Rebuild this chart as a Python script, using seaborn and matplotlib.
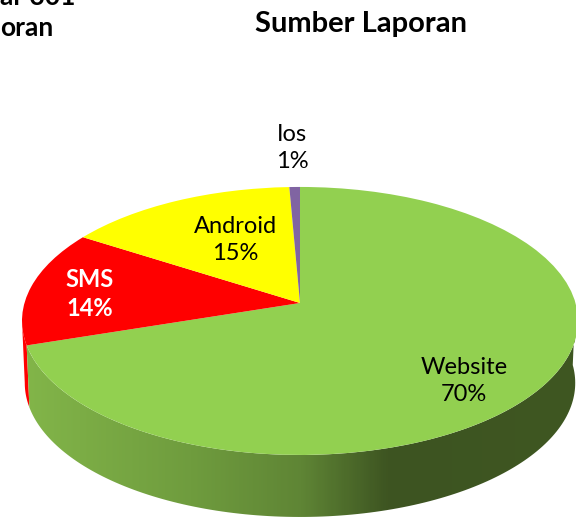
import numpy as np
import matplotlib
matplotlib.use('Agg')
import matplotlib.pyplot as plt
from matplotlib.colors import LinearSegmentedColormap
from matplotlib.patches import Polygon
from matplotlib.transforms import Transform
import seaborn as sns

# Pie values
sources = ['Website', 'SMS', 'Android', 'Ios']
shares = [70.0, 14.0, 15.3, 0.7]
colors = ['#92D050', '#FF0000', '#FFFF00', '#8064A2']
title = 'Sumber Laporan'

# Tilted disc, everything in image pixels
CX, CY = 300, 303
RX, RY, TILT = 275.5, 131.6, 0.134
DEPTH = 62


class Tilted(Transform):
    input_dims = output_dims = 2

    def transform_non_affine(self, xy):
        xy = np.asarray(xy, dtype=float)
        den = 1 + TILT * xy[:, 1]
        return np.column_stack([CX + RX * xy[:, 0] / den, CY - RY * xy[:, 1] / den])


def arc(t1, t2, shift=0, shrink=1.0):
    t = np.radians(np.linspace(t1, t2, 150))
    pts = Tilted().transform_non_affine(np.column_stack([np.cos(t), np.sin(t)]))
    pts[:, 0] = CX + (pts[:, 0] - CX) * shrink
    pts[:, 1] += shift
    return pts


sns.set_theme(style='white')
plt.rcParams['font.family'] = ['Lato', 'DejaVu Sans']

fig, ax = plt.subplots(figsize=(5.76, 5.18), dpi=100)
wedges, _ = ax.pie(shares, colors=colors, startangle=90, counterclock=False)
ax.set_position([0, 0, 1, 1])
ax.set_aspect('auto')
ax.set_xlim(0, 576)
ax.set_ylim(518, 0)
ax.axis('off')

tilt = Tilted() + ax.transData
for w in wedges:
    w.set_transform(tilt)
    w.set_linewidth(0)
    w.set_zorder(3)

# Side wall of the disc, green part has a left to right shading
start = wedges[0].theta1
top = arc(start, 0)
wall = np.vstack([top, arc(0, start, DEPTH, 0.99)])
shade = LinearSegmentedColormap.from_list('wall', [(0, '#82B549'), (0.3, '#6F9C3E'), (0.5, '#5F8535'),
                                                   (0.66, '#3D5421'), (1, '#3F5722')])
img = ax.imshow(np.linspace(0, 1, 300)[None, :], cmap=shade, extent=(25, 578, 518, 340), aspect='auto', zorder=2)
img.set_clip_path(Polygon(wall, transform=ax.transData))
ax.set_xlim(0, 576)
ax.set_ylim(518, 0)

# Red part of the wall, only a sliver shows at the far left
red_top = arc(187.7, start + 360)
ax.add_patch(Polygon(np.vstack([red_top, arc(start + 360, 187.7, DEPTH, 0.99)]), fc=colors[1], lw=0, zorder=1))

ax.text(361, 24, title, fontsize=21, fontweight='bold', ha='center', va='center', color='black')
ax.text(0, -3, 'ar 301', fontsize=19, fontweight='bold', ha='left', va='center', color='black')
ax.text(0, 28, 'oran', fontsize=19, fontweight='bold', ha='left', va='center', color='black')

label_pos = [(464, 381), (90, 294), (235, 240), (292, 148)]
for name, val, (x, y) in zip(sources, shares, label_pos):
    bold = name == 'SMS'
    ax.text(x, y, f'{name}\n{val:.0f}%', fontsize=17, ha='center', va='center', linespacing=1.32,
            fontweight='bold' if bold else 'normal', color='white' if bold else 'black', zorder=5)

fig.savefig('out.png', dpi=100)
